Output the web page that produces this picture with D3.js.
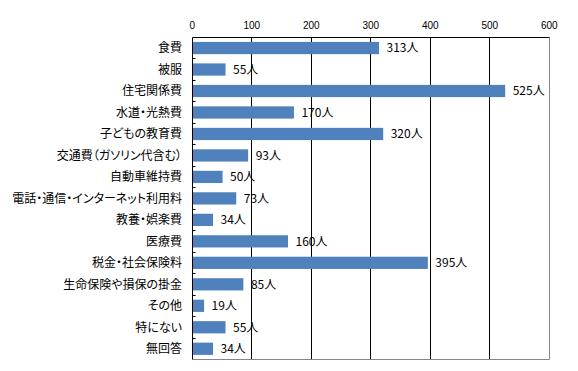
<!DOCTYPE html>
<html>
<head>
<meta charset="utf-8">
<script src="https://cdn.jsdelivr.net/npm/d3@7"></script>
<style>
  body { margin: 0; background: #fff; }
  text { font-family: "Noto Sans CJK JP", sans-serif; font-feature-settings: "palt"; fill: #000; }
</style>
</head>
<body>
<svg id="svg"></svg>
<script>
const width = 578, height = 371;

// data
const categories = ["食費", "被服", "住宅関係費", "水道・光熱費", "子どもの教育費", "交通費（ガソリン代含む）",
  "自動車維持費", "電話・通信・インターネット利用料", "教養・娯楽費", "医療費", "税金・社会保険料",
  "生命保険や損保の掛金", "その他", "特にない", "無回答"];
const values = [313, 55, 525, 170, 320, 93, 50, 73, 34, 160, 395, 85, 19, 55, 34];
const ticks = [0, 100, 200, 300, 400, 500, 600];

// plot area
let plotLeft = 192.3, plotRight = 549.3, plotTop = 37.3, plotBottom = 359.5;

const svg = d3.select("#svg")
    .attr("width", width)
    .attr("height", height);

const x = d3.scaleLinear().domain([0, 600]).range([plotLeft, plotRight]);
const y = d3.scaleBand()
    .domain(categories)
    .range([plotTop, plotBottom])
    .paddingInner(0.43)
    .paddingOuter(0.215);

const crisp = v => Math.floor(v) + 0.5;

// grid lines
svg.append("g")
    .selectAll("line")
    .data(ticks.slice(1, -1))
    .join("line")
    .attr("x1", d => crisp(x(d)))
    .attr("x2", d => crisp(x(d)))
    .attr("y1", crisp(plotTop))
    .attr("y2", crisp(plotBottom))
    .attr("stroke", "#000");

// plot border: right + bottom gray
svg.append("path")
    .attr("d", `M${crisp(plotLeft)},${crisp(plotBottom)}H${crisp(plotRight)}V${crisp(plotTop)}`)
    .attr("fill", "none")
    .attr("stroke", "#868686");

// top axis line
svg.append("line")
    .attr("x1", crisp(plotLeft)).attr("x2", crisp(plotRight))
    .attr("y1", crisp(plotTop)).attr("y2", crisp(plotTop))
    .attr("stroke", "#000");

// tick labels on top
svg.append("g")
    .selectAll("text")
    .data(ticks)
    .join("text")
    .attr("x", d => x(d))
    .attr("y", 29)
    .attr("text-anchor", "middle")
    .style("font-family", "'Liberation Sans', sans-serif")
    .style("font-size", "10px")
    .text(d => d);

// bars
svg.append("g")
    .selectAll("rect")
    .data(values)
    .join("rect")
    .attr("x", x(0) + 0.5)
    .attr("y", (d, i) => y(categories[i]))
    .attr("width", d => x(d) - x(0))
    .attr("height", y.bandwidth())
    .attr("fill", "#4f81bd");

// value labels
svg.append("g")
    .selectAll("text")
    .data(values)
    .join("text")
    .attr("x", d => x(d) + 8)
    .attr("y", (d, i) => y(categories[i]) + y.bandwidth() / 2)
    .attr("dy", "0.36em")
    .style("font-size", "12px")
    .text(d => d + "人");

// left axis line + inner ticks
svg.append("line")
    .attr("x1", crisp(plotLeft)).attr("x2", crisp(plotLeft))
    .attr("y1", crisp(plotTop)).attr("y2", crisp(plotBottom))
    .attr("stroke", "#000");

const step = y.step();
svg.append("g")
    .selectAll("line")
    .data(d3.range(1, categories.length))
    .join("line")
    .attr("x1", crisp(plotLeft))
    .attr("x2", crisp(plotLeft) + 3)
    .attr("y1", i => crisp(plotTop + i * step))
    .attr("y2", i => crisp(plotTop + i * step))
    .attr("stroke", "#000");

// category labels
svg.append("g")
    .selectAll("text")
    .data(categories)
    .join("text")
    .attr("x", 182)
    .attr("y", d => y(d) + y.bandwidth() / 2)
    .attr("dy", "0.36em")
    .attr("text-anchor", "end")
    .style("font-size", "12px")
    .text(d => d);
</script>
</body>
</html>
